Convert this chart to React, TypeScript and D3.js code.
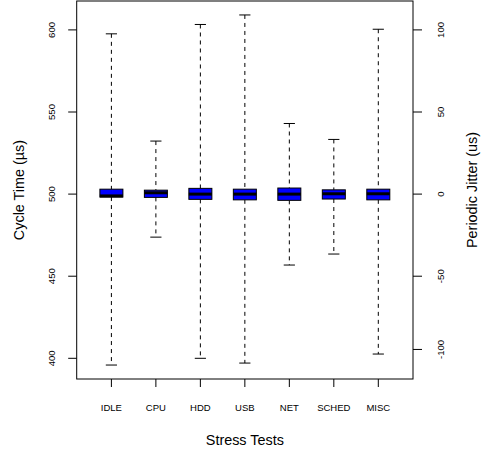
import React from "react";
import * as d3 from "d3";

// stress test categories and box stats (cycle time, µs)
const tests = ["IDLE", "CPU", "HDD", "USB", "NET", "SCHED", "MISC"];
const whiskLow = [395.9, 473.8, 400.0, 397.1, 456.8, 463.5, 402.6];
const q1 = [498.2, 498.0, 496.8, 496.5, 496.2, 497.0, 496.5];
const median = [498.9, 500.8, 500.0, 500.0, 500.0, 500.2, 500.2];
const q3 = [503.0, 502.4, 503.5, 503.0, 503.7, 502.6, 503.0];
const whiskHigh = [597.6, 532.3, 603.3, 609.1, 543.0, 533.3, 600.4];

const cycleTicks = [400, 450, 500, 550, 600];
const jitterTickAt = [-94.6, -50, 0, 50, 100];
const jitterTickLabels = ["-100", "-50", "0", "50", "100"];

const W = 485;
const H = 453;
const left = 76.7, right = 413, top = 1, bottom = 379;
const font = "'Liberation Sans', Arial, Helvetica, sans-serif";

export default function App() {
  const x = d3.scaleLinear().domain([0.22, 7.78]).range([left, right]);
  const y = d3.scaleLinear().domain([387.4, 617.6]).range([bottom, top]);
  // jitter is cycle time minus the 500 µs period
  const yj = d3.scaleLinear().domain([387.4 - 500, 617.6 - 500]).range([bottom, top]);

  const halfBox = 11.5;
  const halfCap = 5.6;

  return (
    <svg width={W} height={H} style={{ position: "absolute", left: 0, top: 0 }} fontFamily={font}>
      <rect width={W} height={H} fill="#fff" />
      {tests.map((t, i) => {
        const cx = x(i + 1);
        return (
          <g key={t}>
            <line x1={cx} x2={cx} y1={y(whiskHigh[i])} y2={y(q3[i])} stroke="#000" strokeDasharray="4,4" />
            <line x1={cx} x2={cx} y1={y(q1[i])} y2={y(whiskLow[i])} stroke="#000" strokeDasharray="4,4" />
            <line x1={cx - halfCap} x2={cx + halfCap} y1={y(whiskHigh[i])} y2={y(whiskHigh[i])} stroke="#000" />
            <line x1={cx - halfCap} x2={cx + halfCap} y1={y(whiskLow[i])} y2={y(whiskLow[i])} stroke="#000" />
            <rect x={cx - halfBox} y={y(q3[i])} width={halfBox * 2} height={y(q1[i]) - y(q3[i])} fill="#0000ff" stroke="#000" />
            <line x1={cx - halfBox} x2={cx + halfBox} y1={y(median[i])} y2={y(median[i])} stroke="#000" strokeWidth={3} />
            <line x1={cx} x2={cx} y1={bottom} y2={bottom + 8} stroke="#000" />
            <text x={cx} y={407} fontSize={9.5} textAnchor="middle" dominantBaseline="central">{t}</text>
          </g>
        );
      })}
      <rect x={left} y={top} width={right - left} height={bottom - top} fill="none" stroke="#000" />
      {cycleTicks.map((v) => (
        <g key={"c" + v}>
          <line x1={left - 8.5} x2={left} y1={y(v)} y2={y(v)} stroke="#000" />
          <text transform={`translate(51.5,${y(v)}) rotate(-90)`} fontSize={9.6} textAnchor="middle" dominantBaseline="central">{v}</text>
        </g>
      ))}
      {jitterTickAt.map((v, i) => (
        <g key={"j" + i}>
          <line x1={right} x2={right + 9} y1={yj(v)} y2={yj(v)} stroke="#000" />
          <text transform={`translate(440,${yj(v)}) rotate(-90)`} fontSize={9.6} textAnchor="middle" dominantBaseline="central">{jitterTickLabels[i]}</text>
        </g>
      ))}
      <text transform={`translate(19,${(top + bottom) / 2}) rotate(-90)`} fontSize={14.4} textAnchor="middle" dominantBaseline="central">Cycle Time (µs)</text>
      <text transform={`translate(471.5,${(top + bottom) / 2}) rotate(-90)`} fontSize={14.4} textAnchor="middle" dominantBaseline="central">Periodic Jitter (us)</text>
      <text x={(left + right) / 2} y={440} fontSize={14.4} textAnchor="middle" dominantBaseline="central">Stress Tests</text>
    </svg>
  );
}
